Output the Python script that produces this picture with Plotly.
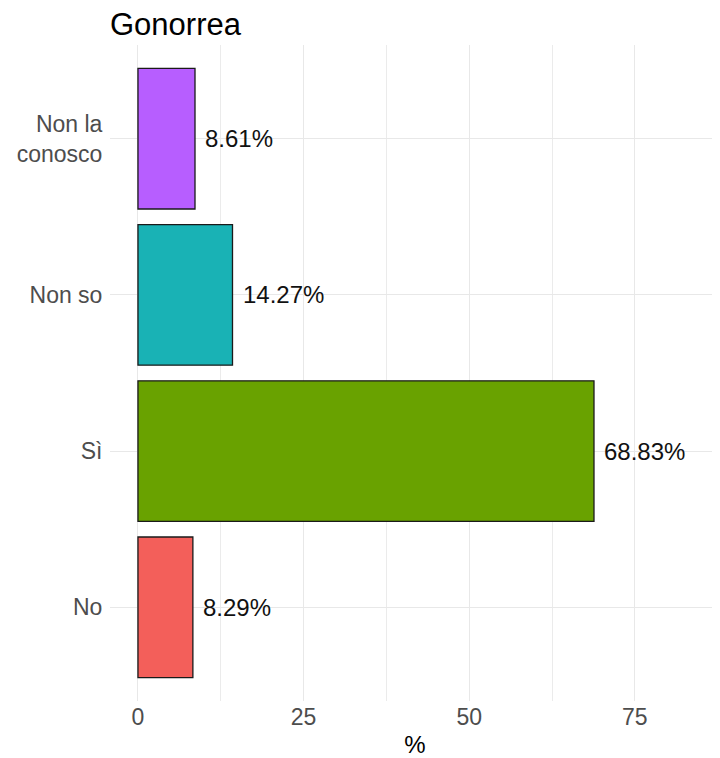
import plotly.graph_objects as go

categories = ["No", "Sì", "Non so", "Non la<br>conosco"]
values = [8.29, 68.83, 14.27, 8.61]
labels = ["8.29%", "68.83%", "14.27%", "8.61%"]
colors = ["#F35F5A", "#69A200", "#19B2B5", "#B75EFF"]
x_ticks = [0, 25, 50, 75]

# page body has an 8px default margin; size the figure to fit the window
W, H = 712, 750

fig = go.Figure()
fig.add_trace(go.Bar(
    y=categories, x=values, orientation="h",
    marker=dict(color=colors, line=dict(color="#1a1a1a", width=1.3)),
    width=0.9, hoverinfo="skip",
))

for c, v, t in zip(categories, values, labels):
    fig.add_annotation(x=v, y=c, text=t, showarrow=False, xanchor="left",
                       xshift=8, font=dict(family="Liberation Sans, Arial", size=24, color="#111111"))

fig.update_layout(
    width=W, height=H,
    margin=dict(l=102, r=0, t=37, b=57),
    paper_bgcolor="white", plot_bgcolor="white",
    showlegend=False,
    font=dict(family="Liberation Sans, Arial"),
    title=dict(text="Gonorrea", x=102/W, xanchor="left", xref="container",
               y=1 - 16/H, yanchor="middle", yref="container",
               font=dict(size=31, color="black")),
)
fig.update_xaxes(
    range=[-4.22, 87.85], tickvals=x_ticks, ticktext=[str(v) for v in x_ticks],
    showgrid=True, gridcolor="#E8E8E8", gridwidth=1.4, zeroline=False,
    minor=dict(tickvals=[12.5, 37.5, 62.5, 87.5], showgrid=True, gridcolor="#EBEBEB", gridwidth=0.7),
    ticks="", tickfont=dict(size=23, color="#4D4D4D"),
    title=dict(text="%", font=dict(size=24, color="black"), standoff=7),
    showline=False,
)
fig.update_yaxes(
    range=[-0.6, 3.6], showgrid=True, gridcolor="#E8E8E8", gridwidth=1.4,
    ticks="outside", ticklen=2, tickcolor="rgba(0,0,0,0)",
    tickfont=dict(size=23, color="#4D4D4D"), showline=False, zeroline=False,
)

fig.write_html("out.html")
